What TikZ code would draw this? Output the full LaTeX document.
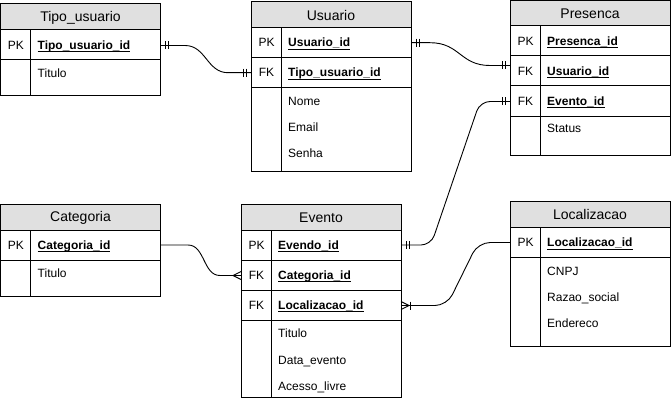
\documentclass[tikz,border=0pt]{standalone}
\usepackage{fontspec}
\setmainfont{Liberation Sans}
\usetikzlibrary{calc}

\definecolor{hdrgray}{HTML}{E0E0E0}

% underlined key field name
\newcommand\keyfield[1]{\setbox0=\hbox{#1}\rlap{\rule[-2.6pt]{\wd0}{0.8pt}}\box0}

% table frame: name, left, top, header bottom, bottom, title
\newcommand\ertable[6]{%
  \fill[hdrgray] (#2,#3) rectangle (#2+160,#4);
  \node[tblbox, minimum height={#5-#3}] (#1) at (#2,#3) {};
  \draw[tblline] (#2,#4) -- (#2+160,#4);
  \draw[tblline] (#2+30,#4) -- (#2+30,#5);
  \node[ttl] (#1-title) at (#2+80,{(#3+#4)/2+0.5}) {#6};
}
% row separator: table name, y
\newcommand\rowline[2]{\draw[tblline] (#1.west |- 0,#2) -- (#1.east |- 0,#2);}
% key row: node name, table left, row centre, tag, field
\newcommand\keyrow[5]{%
  \node[tag] (#1-tag) at (#2+15.5,#3+4.3) {#4};
  \node[fld] (#1) at (#2+37,#3+4.3) {\keyfield{#5}};
}
% plain attribute row: node name, table left, row centre, text
\newcommand\attrrow[4]{\node[attr] (#1) at (#2+37,#3+4.3) {#4};}

\begin{document}
\begin{tikzpicture}[x=1pt,y=-1pt,
  tblbox/.style={draw, line width=1pt, inner sep=0pt, outer sep=0pt,
    minimum width=160pt, anchor=north west},
  tblline/.style={line width=1pt},
  ttl/.style={font=\fontsize{14}{16}\selectfont, inner sep=0pt},
  tag/.style={font=\fontsize{12}{14}\selectfont, anchor=base, inner sep=0pt},
  fld/.style={font=\fontsize{12}{14}\selectfont\bfseries, anchor=base west, inner sep=0pt},
  attr/.style={font=\fontsize{12}{14}\selectfont, anchor=base west, inner sep=0pt},
  rel/.style={line width=0.9pt},
  tick/.style={line width=0.9pt}]
\useasboundingbox (0,0) rectangle (671,401);

% ---------------- tables ----------------
\ertable{tipo}{0.5}{4}{30}{96}{Tipo\_usuario}
\rowline{tipo}{60}
\keyrow{tipo-pk}{0.5}{45}{PK}{Tipo\_usuario\_id}
\attrrow{tipo-titulo}{0.5}{73}{Titulo}

\ertable{usr}{251}{2}{27.5}{171}{Usuario}
\rowline{usr}{57.5}
\rowline{usr}{87.5}
\keyrow{usr-pk}{251}{42.7}{PK}{Usuario\_id}
\keyrow{usr-fk}{251}{72.5}{FK}{Tipo\_usuario\_id}
\attrrow{usr-nome}{251}{101}{Nome}
\attrrow{usr-email}{251}{127}{Email}
\attrrow{usr-senha}{251}{153}{Senha}

\ertable{pres}{510}{0.5}{25.5}{155}{Presenca}
\rowline{pres}{56}
\rowline{pres}{86}
\rowline{pres}{116}
\keyrow{pres-pk}{510}{41}{PK}{Presenca\_id}
\keyrow{pres-fku}{510}{71}{FK}{Usuario\_id}
\keyrow{pres-fke}{510}{101}{FK}{Evento\_id}
\attrrow{pres-status}{510}{128.5}{Status}

\ertable{cat}{0.5}{204}{230}{296}{Categoria}
\rowline{cat}{260}
\keyrow{cat-pk}{0.5}{245}{PK}{Categoria\_id}
\attrrow{cat-titulo}{0.5}{273}{Titulo}

\ertable{ev}{241}{204}{230}{397}{Evento}
\rowline{ev}{260}
\rowline{ev}{290}
\rowline{ev}{320}
\keyrow{ev-pk}{241}{245}{PK}{Evendo\_id}
\keyrow{ev-fkc}{241}{275}{FK}{Categoria\_id}
\keyrow{ev-fkl}{241}{305}{FK}{Localizacao\_id}
\attrrow{ev-titulo}{241}{333.5}{Titulo}
\attrrow{ev-data}{241}{360}{Data\_evento}
\attrrow{ev-acesso}{241}{386}{Acesso\_livre}

\ertable{loc}{510}{201}{227.5}{346}{Localizacao}
\rowline{loc}{257}
\keyrow{loc-pk}{510}{242.5}{PK}{Localizacao\_id}
\attrrow{loc-cnpj}{510}{271}{CNPJ}
\attrrow{loc-razao}{510}{297}{Razao\_social}
\attrrow{loc-end}{510}{323}{Endereco}

% ---------------- connector end points ----------------
\coordinate (c1a) at (tipo.east |- 0,45.5);
\coordinate (c1b) at (usr.west |- 0,72.7);
\coordinate (c2a) at (usr.east |- 0,42.7);
\coordinate (c2b) at (pres.west |- 0,65.5);
\coordinate (c3a) at (ev.east |- 0,245);
\coordinate (c3b) at (pres.west |- 0,101.5);
\coordinate (c4a) at (cat.east |- 0,245);
\coordinate (c4b) at (ev.west |- 0,275.5);
\coordinate (c5a) at (loc.west |- 0,242.5);
\coordinate (c5b) at (ev.east |- 0,305.5);

% ---------------- relationships ----------------
% Tipo_usuario 1 -- 1 Usuario
\draw[rel] (c1a) -- (185,45.5) .. controls (206,45.5) and (207,72.7) .. (228,72.7) -- (c1b);
\draw[tick] (c1a) ++(5,-4) -- ++(0,8) (c1a) ++(8,-4) -- ++(0,8);
\draw[tick] (c1b) ++(-5,-4) -- ++(0,8) (c1b) ++(-8,-4) -- ++(0,8);

% Usuario 1 -- 1 Presenca
\draw[rel] (c2a) -- (430,42.7) .. controls (460,42.7) and (460,65.5) .. (490,65.5) -- (c2b);
\draw[tick] (c2a) ++(5,-4) -- ++(0,8) (c2a) ++(8,-4) -- ++(0,8);
\draw[tick] (c2b) ++(-5,-4) -- ++(0,8) (c2b) ++(-8,-4) -- ++(0,8);

% Evento 1 -- 1 Presenca
\draw[rel, rounded corners=10pt] (c3a) -- (431,245) -- (480,101.5) -- (c3b);
\draw[tick] (c3a) ++(5,-4) -- ++(0,8) (c3a) ++(8,-4) -- ++(0,8);
\draw[tick] (c3b) ++(-5,-4) -- ++(0,8) (c3b) ++(-8,-4) -- ++(0,8);

% Categoria -- many Evento
\draw[rel] (c4a) -- (188,245) .. controls (205,245) and (203,275.5) .. (220,275.5) -- (c4b);
\draw[tick] (c4b) ++(0,-4) -- ++(-8,4) -- ++(8,4);

% Localizacao -- one or many Evento
\draw[rel, rounded corners=12pt] (c5a) -- (478,242.5) -- (447,305.5) -- (c5b);
\draw[tick] (c5b) ++(0,-4) -- ++(8,4) -- ++(-8,4);
\draw[tick] (c5b) ++(9,-4) -- ++(0,8);

\end{tikzpicture}
\end{document}
